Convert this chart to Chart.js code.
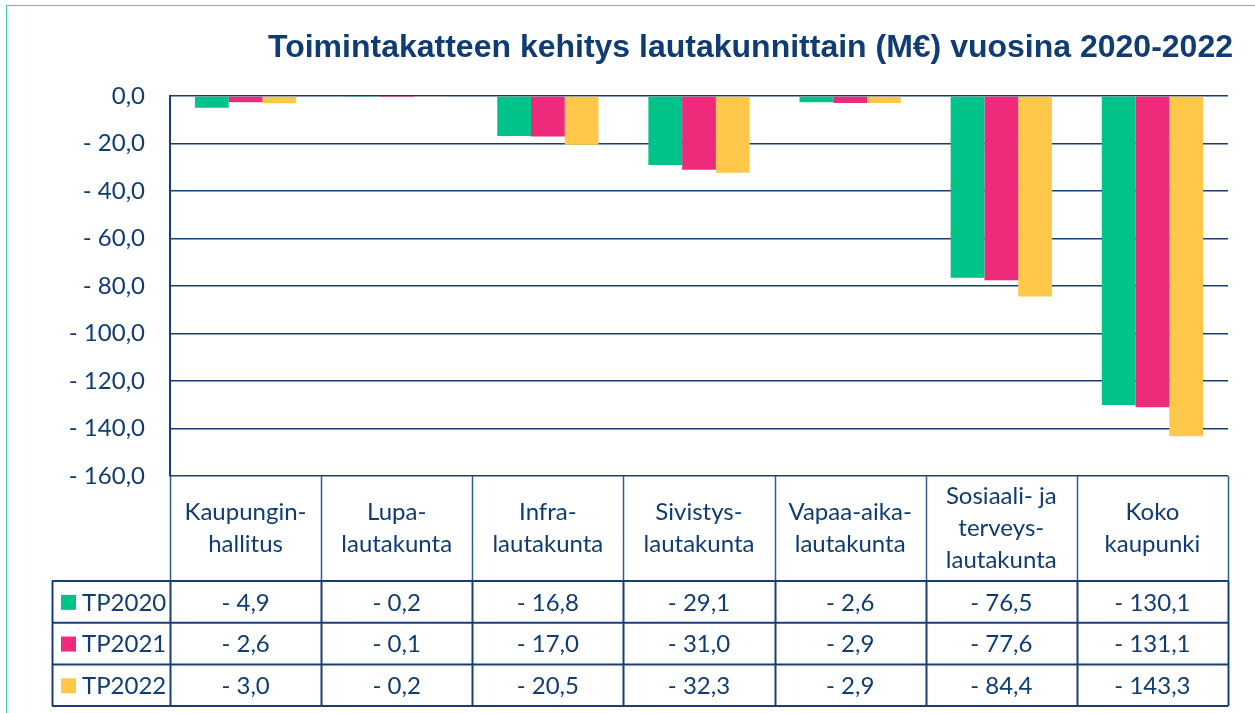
<!DOCTYPE html>
<html lang="fi">
<head>
<meta charset="utf-8">
<title>Toimintakatteen kehitys</title>
<script src="https://cdn.jsdelivr.net/npm/chart.js@4"></script>
<style>
    html, body { margin: 0; padding: 0; background: #ffffff; }
    #wrap { position: relative; width: 1255px; height: 713px; overflow: hidden; }
    #frame { position: absolute; left: 6px; top: 5px; width: 1300px; height: 800px; border: 1px solid #3fd39c; box-sizing: border-box; }
    canvas { position: absolute; left: 0; top: 0; }
</style>
</head>
<body>
<div id="wrap">
    <div id="frame"></div>
    <canvas id="chart" width="1255" height="713"></canvas>
</div>
<script>
// --- DATA ---
const chartTitle = 'Toimintakatteen kehitys lautakunnittain (M€) vuosina 2020-2022';
const categories = [
    ['Kaupungin-', 'hallitus'],
    ['Lupa-', 'lautakunta'],
    ['Infra-', 'lautakunta'],
    ['Sivistys-', 'lautakunta'],
    ['Vapaa-aika-', 'lautakunta'],
    ['Sosiaali- ja', 'terveys-', 'lautakunta'],
    ['Koko', 'kaupunki']
];
const seriesNames = ['TP2020', 'TP2021', 'TP2022'];
const tp2020 = [-4.9, -0.2, -16.8, -29.1, -2.6, -76.5, -130.1];
const tp2021 = [-2.6, -0.1, -17.0, -31.0, -2.9, -77.6, -131.1];
const tp2022 = [-3.0, -0.2, -20.5, -32.3, -2.9, -84.4, -143.3];
const seriesColors = ['#00c389', '#ee2a7b', '#ffc84b'];

const textColor = '#0f3c72';
const lineColor = '#173f75';
const labelFont = 'Lato, "Open Sans", sans-serif';

// muotoilu: -20 -> "- 20,0"
function fmt(v) {
    const s = Math.abs(v).toFixed(1).replace('.', ',');
    return v < 0 ? '- ' + s : s;
}

// --- TAULUKKO JA OTSIKKO ---
const tablePlugin = {
    id: 'tablePlugin',
    afterDraw(chart) {
        const ctx = chart.ctx;
        const x = chart.scales.x;
        const area = chart.chartArea;
        const n = categories.length;
        const colW = (area.right - area.left) / n;
        const headTop = area.bottom;
        const headBottom = headTop + 105;
        const rowH = 41.7;
        const legendLeft = 52;
        const allSeries = [tp2020, tp2021, tp2022];

        ctx.save();

        // otsikko
        ctx.fillStyle = textColor;
        ctx.font = 'bold 32px "Liberation Sans", Arial, sans-serif';
        ctx.textAlign = 'right';
        ctx.textBaseline = 'middle';
        ctx.fillText(chartTitle, 1233, 48);

        // otsikkorivin pystyviivat
        ctx.strokeStyle = '#2f5a93';
        ctx.lineWidth = 1.5;
        for (let i = 0; i <= n; i++) {
            const px = Math.round(area.left + i * colW) + 0.5;
            ctx.beginPath();
            ctx.moveTo(px, headTop);
            ctx.lineTo(px, headBottom);
            ctx.stroke();
        }

        // kategoriat
        ctx.font = '24px ' + labelFont;
        ctx.textAlign = 'center';
        ctx.fillStyle = textColor;
        categories.forEach((lines, i) => {
            const cx = x.getPixelForValue(i);
            const lh = 32;
            const midY = (headTop + headBottom) / 2;
            const y0 = midY - (lines.length - 1) * lh / 2;
            lines.forEach((t, j) => ctx.fillText(t, cx, y0 + j * lh));
        });

        // arvorivit
        ctx.strokeStyle = lineColor;
        ctx.lineWidth = 2;
        for (let r = 0; r <= 3; r++) {
            const py = headBottom + r * rowH;
            ctx.beginPath();
            ctx.moveTo(legendLeft, py);
            ctx.lineTo(area.right, py);
            ctx.stroke();
        }
        const verticals = [legendLeft];
        for (let i = 0; i <= n; i++) verticals.push(area.left + i * colW);
        verticals.forEach(vx => {
            ctx.beginPath();
            ctx.moveTo(Math.round(vx) + 0.5, headBottom);
            ctx.lineTo(Math.round(vx) + 0.5, headBottom + 3 * rowH);
            ctx.stroke();
        });

        allSeries.forEach((data, r) => {
            const cy = headBottom + r * rowH + rowH / 2;
            // selitteen laatikko
            ctx.fillStyle = seriesColors[r];
            ctx.fillRect(61, cy - 7, 15, 15);
            ctx.fillStyle = textColor;
            ctx.textAlign = 'left';
            ctx.fillText(seriesNames[r], 82, cy + 1);
            ctx.textAlign = 'center';
            data.forEach((v, i) => {
                ctx.fillText(fmt(v), x.getPixelForValue(i), cy + 1);
            });
        });

        ctx.restore();
    }
};

new Chart(document.getElementById('chart'), {
    type: 'bar',
    data: {
        labels: categories.map(c => c.join(' ')),
        datasets: seriesNames.map((name, i) => ({
            label: name,
            data: [tp2020, tp2021, tp2022][i],
            backgroundColor: seriesColors[i],
            borderWidth: 0,
            categoryPercentage: 0.67,
            barPercentage: 1.0
        }))
    },
    options: {
        responsive: false,
        devicePixelRatio: 1,
        animation: false,
        layout: { padding: { left: 0, right: 27, top: 96, bottom: 237 } },
        plugins: {
            legend: { display: false },
            title: { display: false },
            tooltip: { enabled: false }
        },
        scales: {
            x: {
                display: false
            },
            y: {
                min: -160,
                max: 0,
                afterFit(scale) { scale.width = 170; },
                ticks: {
                    stepSize: 20,
                    padding: 25,
                    color: textColor,
                    font: { family: labelFont, size: 24 },
                    callback: v => fmt(v)
                },
                grid: { color: lineColor, lineWidth: 1.5, drawTicks: false },
                border: { display: true, color: lineColor, width: 2 }
            }
        }
    },
    plugins: [tablePlugin]
});
</script>
</body>
</html>
